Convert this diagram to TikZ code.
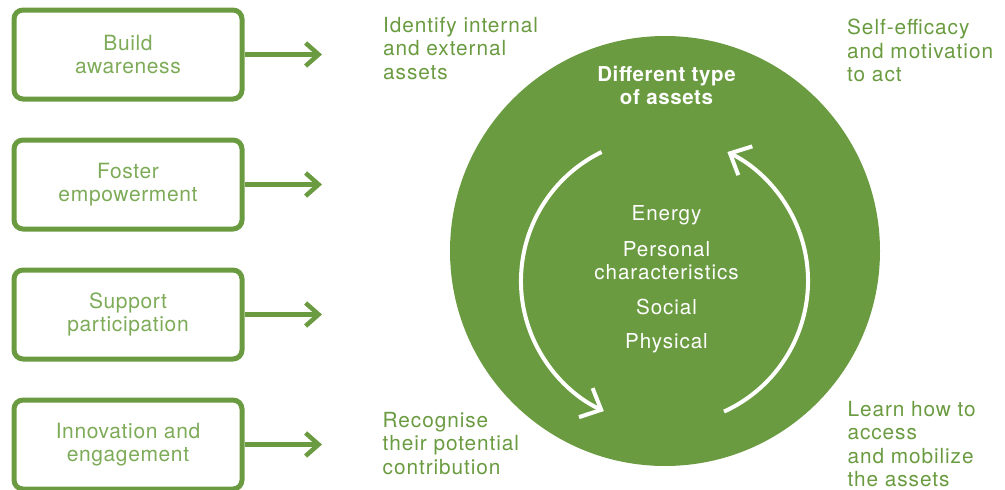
\documentclass[tikz,border=0pt]{standalone}
\usepackage{fontspec}
\setmainfont{TeX Gyre Heros}[LetterSpace=4.5]
\newfontfamily\boxfont{TeX Gyre Heros}[LetterSpace=3]
\usetikzlibrary{arrows.meta}
\definecolor{leaf}{HTML}{6A9B40}
\definecolor{leaflight}{HTML}{7DAB58}
\begin{document}
\begin{tikzpicture}[x=1pt,y=-1pt,
  stepbox/.style={draw=leaf, line width=5pt, rounded corners=9pt,
    minimum width=228pt, minimum height=89pt, inner sep=0pt, align=center,
    text=leaflight, font=\boxfont\fontsize{21}{23}\selectfont},
  outcome/.style={text=leaf, align=left, anchor=north west, inner sep=0pt,
    font=\fontsize{20.8}{23.5}\selectfont},
  link/.style={draw=leaf, line width=4.5pt,
    -{Straight Barb[length=13pt,width=23pt]}},
  turnarrow/.style={draw=white, line width=4pt,
    -{Straight Barb[length=17pt,width=32pt]}},
  asset/.style={text=white, inner sep=0pt, align=center,
    font=\fontsize{20.6}{23.3}\selectfont}
]
\useasboundingbox (0,0) rectangle (1005,490);

% actions on the left
\node[stepbox] (b1) at (128,54.5)  {Build\\awareness};
\node[stepbox] (b2) at (128,184.5) {Foster\\empowerment};
\node[stepbox] (b3) at (128,314.5) {Support\\participation};
\node[stepbox] (b4) at (128,444.5) {Innovation and\\engagement};

\coordinate (t1) at (322,54.5);
\coordinate (t2) at (322,184.5);
\coordinate (t3) at (322,314.5);
\coordinate (t4) at (322,444.5);
\draw[link] (b1.east) -- (t1);
\draw[link] (b2.east) -- (t2);
\draw[link] (b3.east) -- (t3);
\draw[link] (b4.east) -- (t4);

% the assets circle
\node[circle, fill=leaf, minimum size=430pt, inner sep=0pt] (hub) at (665,251) {};
\node[text=white, align=center, anchor=north, inner sep=0pt,
  font=\boxfont\bfseries\fontsize{20.5}{23.3}\selectfont] (title) at (666.5,66)
  {Different type\\of assets};

\node[asset, anchor=base]  (energy)   at (666.5,220.7) {Energy};
\node[asset, anchor=north] (personal) at (666.5,241)   {Personal\\characteristics};
\node[asset, anchor=base]  (social)   at (666.5,314)   {Social};
\node[asset, anchor=base]  (physical) at (666.5,348.3) {Physical};

% circular flow inside
\coordinate (ring) at (664.5,281);
\draw[turnarrow] ([shift={(244:143.5)}]ring) arc[start angle=244, end angle=115, radius=143.5];
\draw[turnarrow] ([shift={(65.5:143.5)}]ring) arc[start angle=65.5, end angle=-64, radius=143.5];

% outcomes around the circle
\node[outcome] (identify)  at (383,17)      {Identify internal\\and external\\assets};
\node[outcome] (selfeff)   at (847,19)      {Self-efficacy\\and motivation\\to act};
\node[outcome] (recognise) at (382.5,411.7) {Recognise\\their potential\\contribution};
\node[outcome] (learn)     at (847.3,400.7) {Learn how to\\access\\and mobilize\\the assets};
\end{tikzpicture}
\end{document}
